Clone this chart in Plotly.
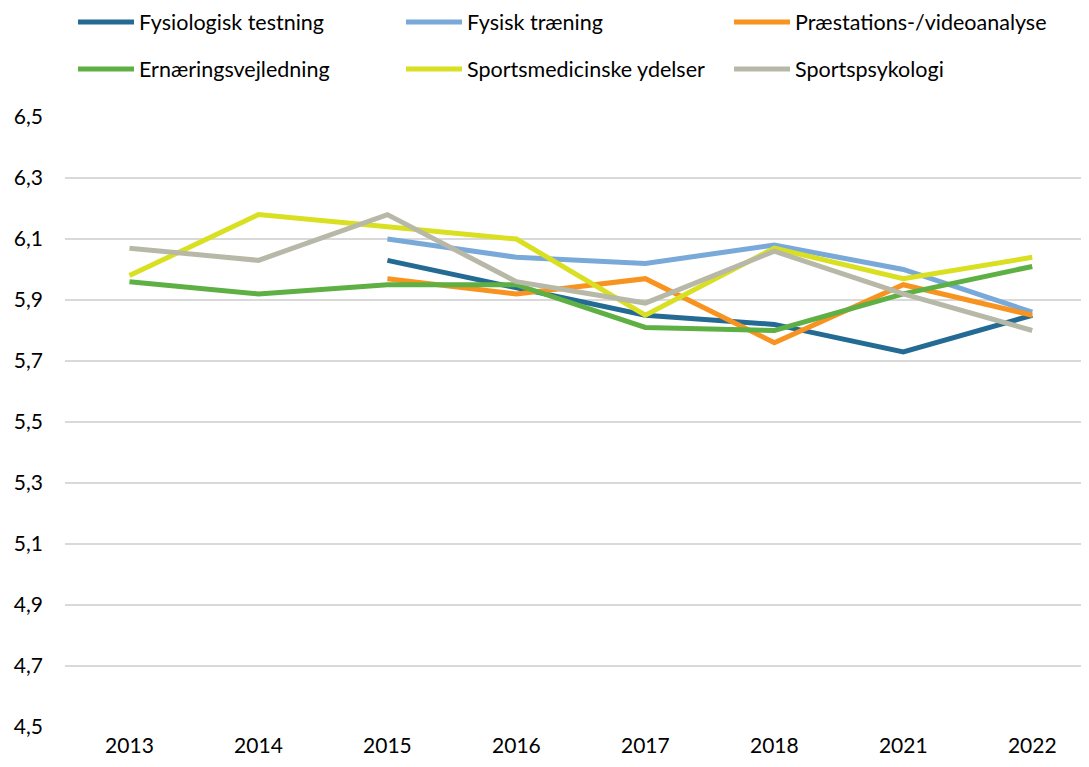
import plotly.graph_objects as go

years = ["2013", "2014", "2015", "2016", "2017", "2018", "2021", "2022"]

fysiologisk = [None, None, 6.03, 5.94, 5.85, 5.82, 5.73, 5.85]
fysisk = [None, None, 6.10, 6.04, 6.02, 6.08, 6.00, 5.86]
praestation = [None, None, 5.97, 5.92, 5.97, 5.76, 5.95, 5.85]
ernaering = [5.96, 5.92, 5.95, 5.95, 5.81, 5.80, 5.92, 6.01]
sportsmed = [5.98, 6.18, 6.14, 6.10, 5.85, 6.07, 5.97, 6.04]
sportspsyk = [6.07, 6.03, 6.18, 5.96, 5.89, 6.06, 5.92, 5.80]

names = ["Fysiologisk testning", "Fysisk træning", "Præstations-/videoanalyse",
         "Ernæringsvejledning", "Sportsmedicinske ydelser", "Sportspsykologi"]
series = [fysiologisk, fysisk, praestation, ernaering, sportsmed, sportspsyk]
colors = ["#246b94", "#79a9d8", "#f7931e", "#5eb044", "#d9e021", "#b8b8a8"]
legends = ["legend", "legend", "legend", "legend2", "legend2", "legend2"]

y_ticks = [4.5, 4.7, 4.9, 5.1, 5.3, 5.5, 5.7, 5.9, 6.1, 6.3, 6.5]

FONT = "Lato, 'Open Sans', 'Liberation Sans', sans-serif"

fig = go.Figure()
for n, s, c, lg in zip(names, series, colors, legends):
    fig.add_trace(go.Scatter(x=years, y=s, name=n, mode="lines",
                             line=dict(color=c, width=5),
                             legend=lg, connectgaps=False))

legend_common = dict(orientation="h", xanchor="left", yanchor="middle",
                     font=dict(family=FONT, size=21.5, color="#000000"),
                     itemwidth=56, entrywidth=257, entrywidthmode="pixels",
                     bgcolor="rgba(0,0,0,0)", itemclick=False)

# page body has an 8px margin, so the figure is offset by 8px
FIG_W, FIG_H = 1081, 759
T, B, L = 109, 40, 57
PLOT_H = FIG_H - T - B
PLOT_W = FIG_W - L
PLOT_BOTTOM = T + PLOT_H
LEG_X = 8 / PLOT_W

fig.update_layout(
    width=FIG_W, height=FIG_H,
    paper_bgcolor="white", plot_bgcolor="white",
    margin=dict(l=L, r=0, t=T, b=B, autoexpand=False),
    separators=",.",
    font=dict(family=FONT, size=21, color="#000000"),
    legend=dict(x=LEG_X, y=(PLOT_BOTTOM - 14) / PLOT_H, **legend_common),
    legend2=dict(x=LEG_X, y=(PLOT_BOTTOM - 61) / PLOT_H, **legend_common),
    xaxis=dict(type="category", categoryorder="array", categoryarray=years,
               range=[-0.5, 7.44], showgrid=False, showline=False, zeroline=False,
               ticks="", ticklabelstandoff=4, automargin=False,
               tickfont=dict(family=FONT, size=21, color="#000000")),
    yaxis=dict(range=[4.5, 6.5], tickvals=y_ticks, tickformat=".1f",
               showgrid=True, gridcolor="#d9d9d9", gridwidth=1.5, automargin=False,
               zeroline=False, showline=False, ticks="", ticklabelstandoff=21,
               tickfont=dict(family=FONT, size=21, color="#000000")),
)

fig.write_html("out.html")
